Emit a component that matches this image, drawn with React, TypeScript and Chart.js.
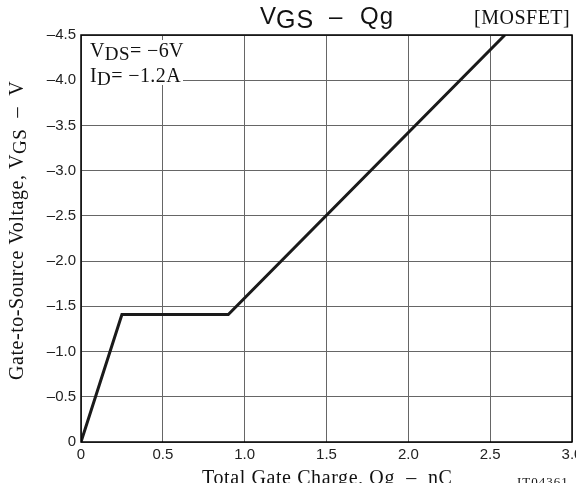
import React, { useEffect, useRef } from "react";
import { Chart, registerables } from "chart.js";

Chart.register(...registerables);

// Data (magnitudes; axis labels show negative sign)
const gateCharge = [0, 0.25, 0.9, 2.59];
const gateVoltage = [0, 1.41, 1.41, 4.5];
const xTicks = [0, 0.5, 1.0, 1.5, 2.0, 2.5, 3.0];
const yTicks = [0, 0.5, 1.0, 1.5, 2.0, 2.5, 3.0, 3.5, 4.0, 4.5];

const SANS = "'Liberation Sans', Arial, sans-serif";
const SERIF = "'Liberation Serif', 'Times New Roman', serif";

type Part = { t: string; size: number; dy: number; font: string; ls?: number };

function drawSub(ctx: CanvasRenderingContext2D, parts: Part[], x: number, y: number) {
  let cx = x;
  for (const p of parts) {
    ctx.font = `${p.size}px ${p.font}`;
    (ctx as any).letterSpacing = `${p.ls ?? 0}px`;
    ctx.fillText(p.t, cx, y + p.dy);
    cx += ctx.measureText(p.t).width;
  }
  (ctx as any).letterSpacing = "0px";
  return cx;
}

const textPlugin = {
  id: "textPlugin",
  beforeDatasetsDraw(chart: any) {
    const ctx = chart.ctx as CanvasRenderingContext2D;
    const a = chart.chartArea;
    ctx.save();
    ctx.fillStyle = "#fff";
    ctx.fillRect(a.left + 1, a.top + 5, 101, 45);
    ctx.restore();
  },
  afterDraw(chart: any) {
    const ctx = chart.ctx as CanvasRenderingContext2D;
    const a = chart.chartArea;
    ctx.save();
    // frame
    ctx.strokeStyle = "#000";
    ctx.lineWidth = 1.5;
    ctx.strokeRect(a.left, a.top, a.right - a.left, a.bottom - a.top);

    ctx.fillStyle = "#111";
    ctx.textBaseline = "alphabetic";
    ctx.textAlign = "left";
    // main title
    drawSub(
      ctx,
      [
        { t: "V", size: 24, dy: 0, font: SANS },
        { t: "GS", size: 25, dy: 4, font: SANS, ls: 1 },
      ],
      260,
      24
    );
    drawSub(ctx, [{ t: "\u2013", size: 24, dy: 0, font: SANS }], 329, 24);
    drawSub(ctx, [{ t: "Qg", size: 24, dy: 0, font: SANS, ls: 1 }], 360, 24);

    // [MOSFET]
    drawSub(ctx, [{ t: "[MOSFET]", size: 20, dy: 0, font: SERIF, ls: 0.5 }], 474, 24);

    // condition annotation
    drawSub(
      ctx,
      [
        { t: "V", size: 20, dy: 0, font: SERIF, ls: 0.4 },
        { t: "DS", size: 19, dy: 3, font: SERIF, ls: 0.4 },
        { t: "= \u22126V", size: 20, dy: 0, font: SERIF, ls: 0.4 },
      ],
      a.left + 9,
      57
    );
    drawSub(
      ctx,
      [
        { t: "I", size: 20, dy: 0, font: SERIF, ls: 0.4 },
        { t: "D", size: 19, dy: 3, font: SERIF, ls: 0.4 },
        { t: "= \u22121.2A", size: 20, dy: 0, font: SERIF, ls: 0.4 },
      ],
      a.left + 9,
      82
    );

    // x axis title
    drawSub(
      ctx,
      [{ t: "Total Gate Charge, Qg  \u2013  nC", size: 20, dy: 0, font: SERIF, ls: 0.6 }],
      202,
      484
    );
    drawSub(ctx, [{ t: "IT04361", size: 13, dy: 0, font: SERIF, ls: 1 }], 517, 486);

    // y axis title (rotated)
    ctx.translate(23, 380);
    ctx.rotate(-Math.PI / 2);
    drawSub(
      ctx,
      [
        { t: "Gate-to-Source Voltage, V", size: 20, dy: 0, font: SERIF, ls: 0.55 },
        { t: "GS", size: 19, dy: 3, font: SERIF, ls: 0.55 },
        { t: "  \u2013  V", size: 20, dy: 0, font: SERIF, ls: 0.55 },
      ],
      0,
      0
    );
    ctx.restore();
  },
};

export default function App() {
  const ref = useRef<HTMLCanvasElement | null>(null);
  useEffect(() => {
    document.body.style.margin = "0";
    const canvas = ref.current!;
    const chart = new Chart(canvas, {
      type: "scatter",
      data: {
        datasets: [
          {
            data: gateCharge.map((x, i) => ({ x, y: gateVoltage[i] })),
            showLine: true,
            borderColor: "#1a1a1a",
            borderWidth: 3,
            pointRadius: 0,
            fill: false,
            tension: 0,
          },
        ],
      },
      options: {
        animation: false,
        responsive: false,
        devicePixelRatio: 1,
        layout: { padding: { top: 35, right: 4, left: 0, bottom: 0 } },
        plugins: { legend: { display: false }, tooltip: { enabled: false }, title: { display: false } },
        scales: {
          x: {
            type: "linear",
            min: 0,
            max: 3,
            afterBuildTicks: (s: any) => {
              s.ticks = xTicks.map((v) => ({ value: v }));
            },
            afterFit: (s: any) => {
              s.height = 41;
              s.paddingLeft = 0;
              s.paddingRight = 0;
            },
            grid: { color: "#666", lineWidth: 1, drawTicks: false },
            border: { display: false },
            ticks: {
              padding: 4,
              color: "#222",
              font: { family: SANS, size: 15 },
              maxRotation: 0,
              autoSkip: false,
              callback: (v: any) => (v === 0 ? "0" : Number(v).toFixed(1)),
            },
          },
          y: {
            type: "linear",
            min: 0,
            max: 4.5,
            afterBuildTicks: (s: any) => {
              s.ticks = yTicks.map((v) => ({ value: v }));
            },
            afterFit: (s: any) => {
              s.width = 81;
              s.paddingTop = 0;
              s.paddingBottom = 0;
            },
            grid: { color: "#666", lineWidth: 1, drawTicks: false },
            border: { display: false },
            ticks: {
              padding: 5,
              color: "#222",
              font: { family: SANS, size: 15 },
              autoSkip: false,
              callback: (v: any) => (v === 0 ? "0" : "\u2013" + Number(v).toFixed(1)),
            },
          },
        },
      },
      plugins: [textPlugin],
    } as any);
    return () => chart.destroy();
  }, []);
  return (
    <div style={{ position: "absolute", left: 0, top: 0, width: 576, height: 483, background: "#fff" }}>
      <canvas ref={ref} width={576} height={483} style={{ display: "block" }} />
    </div>
  );
}
